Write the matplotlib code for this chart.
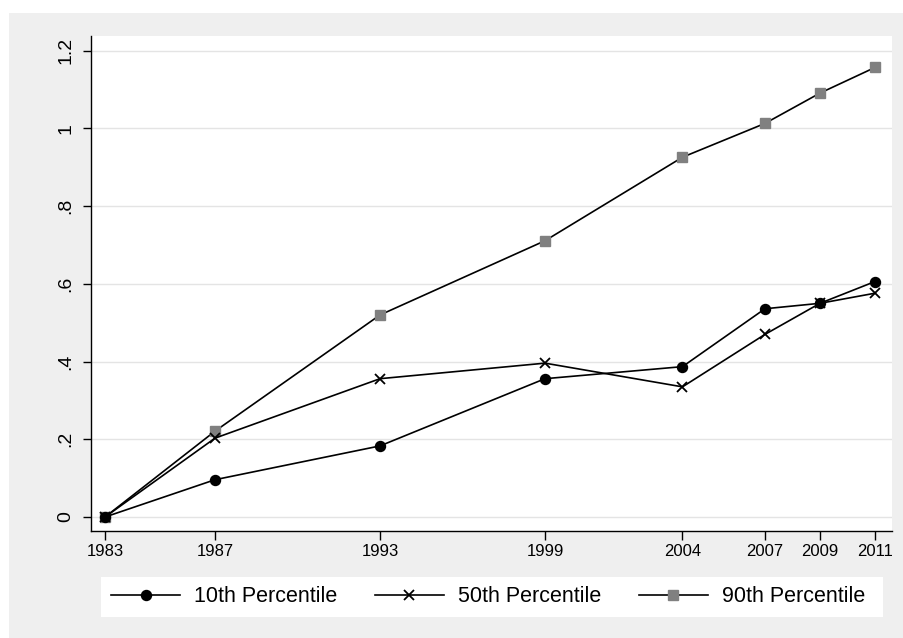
import numpy as np
import matplotlib
matplotlib.use("Agg")
import matplotlib.pyplot as plt
from matplotlib.patches import Rectangle

plt.rcParams['font.family'] = ['Liberation Sans', 'DejaVu Sans']

# data
years = [1983, 1987, 1993, 1999, 2004, 2007, 2009, 2011]
p10 = [0.0, 0.096, 0.183, 0.356, 0.387, 0.536, 0.550, 0.606]
p50 = [0.0, 0.203, 0.356, 0.396, 0.335, 0.470, 0.550, 0.576]
p90 = [0.0, 0.221, 0.520, 0.711, 0.926, 1.013, 1.091, 1.157]
yticks = [0, 0.2, 0.4, 0.6, 0.8, 1.0, 1.2]
ytick_labels = ["0", ".2", ".4", ".6", ".8", "1", "1.2"]
labels = ["10th Percentile", "50th Percentile", "90th Percentile"]

W, H = 904, 638
fig = plt.figure(figsize=(W / 100, H / 100), dpi=100)
fig.patch.set_facecolor("white")

# grey outer background (stata style)
fig.patches.append(Rectangle((9 / W, 0), 1 - 9 / W, 1 - 13 / H, transform=fig.transFigure,
                             facecolor="#efefef", edgecolor="none", zorder=-10))
# white legend box
fig.patches.append(Rectangle((101 / W, 1 - 617 / H), (883 - 101) / W, 40 / H,
                             transform=fig.transFigure, facecolor="white",
                             edgecolor="none", zorder=-5))

ax = fig.add_axes([91 / W, 1 - 531 / H, (892 - 91) / W, (531 - 36) / H])
ax.set_facecolor("white")

lw = 1.2
ax.plot(years, p10, color="black", lw=lw, marker="o", ms=7.2, mfc="black", mec="black",
        label=labels[0], zorder=3)
ax.plot(years, p50, color="black", lw=lw, marker="x", ms=7.5, mew=1.3, mec="black",
        label=labels[1], zorder=3)
ax.plot(years, p90, color="black", lw=lw, marker="s", ms=7.8, mfc="#808080", mec="#808080",
        label=labels[2], zorder=2)

ax.set_xlim(1982.49, 2011.62)
ax.set_ylim(-0.036, 1.238)

ax.set_xticks(years)
ax.set_xticklabels([str(y) for y in years], fontsize=12)
ax.set_yticks(yticks)
ax.set_yticklabels(ytick_labels, fontsize=14, rotation=90, va="center")

ax.yaxis.grid(True, color="#e4e4e4", lw=1.0)
ax.set_axisbelow(True)

for s in ["top", "right"]:
    ax.spines[s].set_visible(False)
for s in ["left", "bottom"]:
    ax.spines[s].set_color("black")
    ax.spines[s].set_linewidth(1.0)

ax.tick_params(axis="y", direction="out", length=6, width=1, pad=6)
ax.tick_params(axis="x", direction="out", length=6.5, width=1, pad=3)

fig.legend(loc="center", bbox_to_anchor=(488 / W, 1 - 597 / H), ncol=3, frameon=False,
           fontsize=15.5, handlelength=3.2, handletextpad=0.65, columnspacing=1.75)

fig.savefig("out.png", dpi=100, facecolor=fig.get_facecolor())
